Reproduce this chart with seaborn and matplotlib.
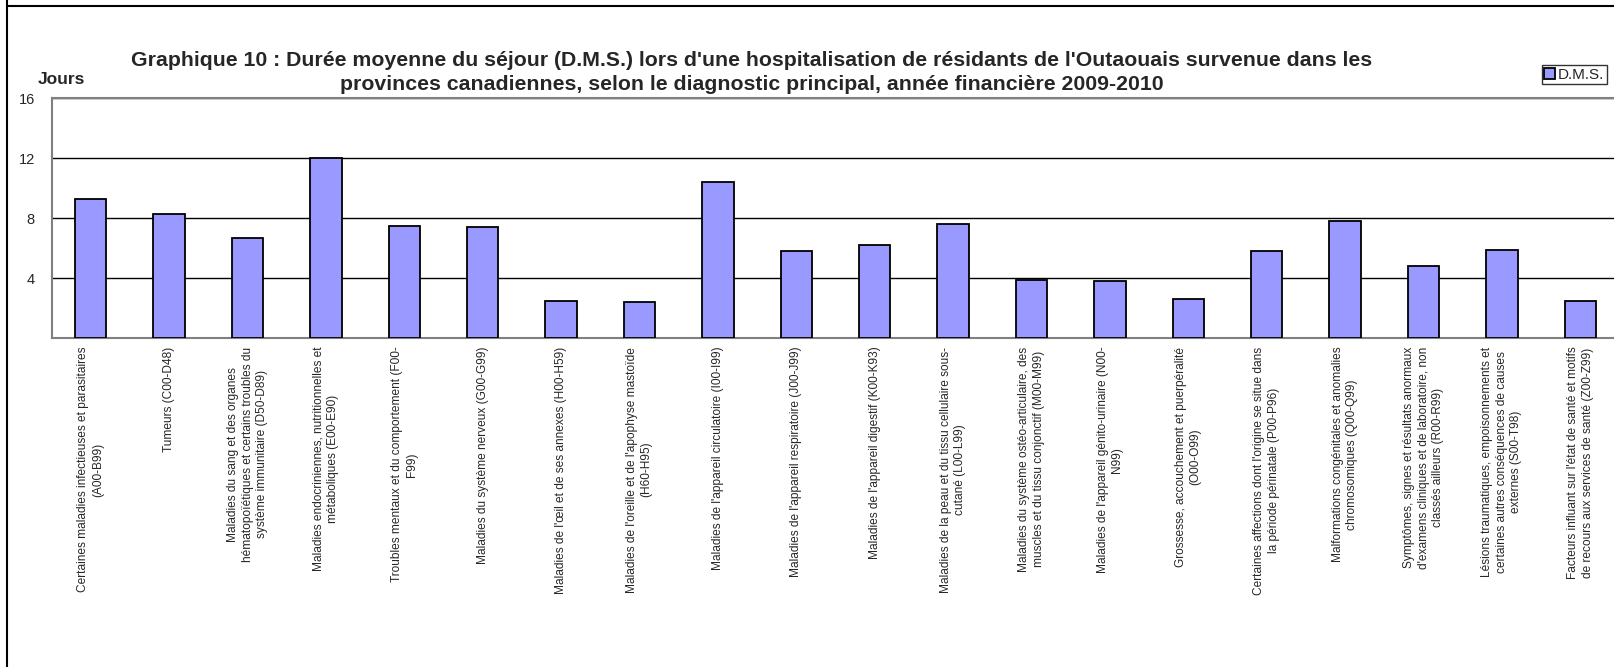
import matplotlib
matplotlib.use("Agg")
import matplotlib.pyplot as plt
import seaborn as sns
from matplotlib.lines import Line2D

# Données
diagnostics = [
    "Certaines maladies infectieuses et parasitaires\n(A00-B99)",
    "Tumeurs (C00-D48)",
    "Maladies du sang et des organes\nhématopoïétiques et certains troubles du\nsystème immunitaire (D50-D89)",
    "Maladies endocriniennes, nutritionnelles et\nmétaboliques (E00-E90)",
    "Troubles mentaux et du comportement (F00-\nF99)",
    "Maladies du système nerveux (G00-G99)",
    "Maladies de l'œil et de ses annexes (H00-H59)",
    "Maladies de l'oreille et de l'apophyse mastoïde\n(H60-H95)",
    "Maladies de l'appareil circulatoire (I00-I99)",
    "Maladies de l'appareil respiratoire (J00-J99)",
    "Maladies de l'appareil digestif (K00-K93)",
    "Maladies de la peau et du tissu cellulaire sous-\ncutané (L00-L99)",
    "Maladies du système ostéo-articulaire, des\nmuscles et du tissu conjonctif (M00-M99)",
    "Maladies de l'appareil génito-urinaire (N00-\nN99)",
    "Grossesse, accouchement et puerpéralité\n(O00-O99)",
    "Certaines affections dont l'origine se situe dans\nla période périnatale (P00-P96)",
    "Malformations congénitales et anomalies\nchromosomiques (Q00-Q99)",
    "Symptômes, signes et résultats anormaux\nd'examens cliniques et de laboratoire, non\nclassés ailleurs (R00-R99)",
    "Lésions traumatiques, empoisonnements et\ncertaines autres conséquences de causes\nexternes (S00-T98)",
    "Facteurs influant sur l'état de santé et motifs\nde recours aux services de santé (Z00-Z99)",
]
dms = [9.3, 8.3, 6.7, 12.0, 7.5, 7.4, 2.5, 2.4, 10.4, 5.8,
       6.2, 7.6, 3.9, 3.8, 2.6, 5.8, 7.8, 4.8, 5.9, 2.5]
y_ticks = [4, 8, 12, 16]

sns.set_style("white")
plt.rcParams["font.family"] = ["Liberation Sans", "DejaVu Sans"]

W, H = 1614, 667
fig = plt.figure(figsize=(W / 100, H / 100), dpi=100)
# zone de tracé (coupée à droite comme dans l'original)
left, right, top, bottom = 51.5, 1619.5, 98.3, 338.3
ax = fig.add_axes([left / W, 1 - bottom / H, (right - left) / W, (bottom - top) / H])

sns.barplot(x=list(range(len(dms))), y=dms, color="#9999FF", saturation=1,
            edgecolor="black", linewidth=1.3, width=0.4, label="D.M.S.", ax=ax, zorder=3)

ax.set_xlim(-0.5, len(dms) - 0.5)
ax.set_ylim(0, 16)
ax.set_yticks(y_ticks)
ax.set_yticklabels([str(t) for t in y_ticks], fontsize=10.5)
ax.yaxis.grid(True, color="black", linewidth=1)
ax.set_axisbelow(True)
ax.tick_params(axis="y", length=0, pad=12)
ax.tick_params(axis="x", length=0, pad=6)
ax.set_xticks(range(len(dms)))
ax.set_xticklabels(diagnostics, rotation=90, ha="center", va="top",
                   multialignment="center", fontsize=8.6, linespacing=1.27)
ax.set_xlabel("")
ax.set_ylabel("")
for s in ["left", "top", "bottom"]:
    ax.spines[s].set_color("#808080")
    ax.spines[s].set_linewidth(1.5)
ax.spines["right"].set_visible(False)

leg = ax.legend(loc="lower left", bbox_to_anchor=(1542 / W, 1 - 84 / H),
                bbox_transform=fig.transFigure, fontsize=11, frameon=True,
                fancybox=False, edgecolor="black", handlelength=0.7,
                handleheight=0.7, handletextpad=0.2, borderpad=0.15,
                borderaxespad=0)
leg.get_frame().set_linewidth(1)

fig.text(752 / W, 1 - 60 / H,
         "Graphique 10 : Durée moyenne du séjour (D.M.S.) lors d'une hospitalisation de résidants de l'Outaouais survenue dans les",
         ha="center", va="center", fontsize=15.3, fontweight="bold")
fig.text(752 / W, 1 - 85 / H,
         "provinces canadiennes, selon le diagnostic principal, année financière 2009-2010",
         ha="center", va="center", fontsize=15.3, fontweight="bold")
fig.text(38 / W, 1 - 80 / H, "Jours", ha="left", va="center",
         fontsize=12.5, fontweight="bold")

# bordures du cadre
fig.add_artist(Line2D([7 / W, 7 / W], [0, 1], color="black", linewidth=1.5))
fig.add_artist(Line2D([7 / W, 1], [1 - 6 / H, 1 - 6 / H], color="black", linewidth=1.5))

fig.savefig("out.png", dpi=100)
